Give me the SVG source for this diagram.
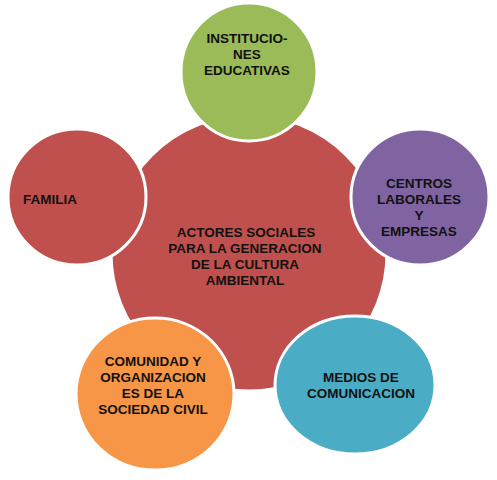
<svg xmlns="http://www.w3.org/2000/svg" width="497" height="480" viewBox="0 0 497 480">
<style>
.c{stroke:#fff;stroke-width:3}
text{font-family:"Liberation Sans",Arial,sans-serif;font-weight:bold;font-size:13.5px;fill:#111;text-anchor:middle}
</style>
<rect width="497" height="480" fill="#fff"/>
<g id="connectors"></g>
<g id="center">
<ellipse class="c" cx="249" cy="253" rx="138" ry="138" fill="#C0504D"/>
<text x="246" y="237">ACTORES SOCIALES</text>
<text x="245" y="253">PARA LA GENERACION</text>
<text x="245" y="269">DE  LA CULTURA</text>
<text x="245" y="285">AMBIENTAL</text>
</g>
<g id="instituciones">
<ellipse class="c" cx="249" cy="72" rx="68" ry="69" fill="#9BBB59"/>
<text x="247" y="43">INSTITUCIO-</text>
<text x="247" y="59">NES</text>
<text x="247" y="75">EDUCATIVAS</text>
</g>
<g id="familia">
<ellipse class="c" cx="77" cy="197" rx="69" ry="68" fill="#C0504D"/>
<text x="50" y="204">FAMILIA</text>
</g>
<g id="centros">
<ellipse class="c" cx="420" cy="197" rx="69" ry="68" fill="#8064A2"/>
<text x="419" y="188">CENTROS</text>
<text x="419" y="204">LABORALES</text>
<text x="419" y="220">Y</text>
<text x="419" y="236">EMPRESAS</text>
</g>
<g id="medios">
<ellipse class="c" cx="355" cy="385" rx="80" ry="69" fill="#4BACC6"/>
<text x="361" y="382">MEDIOS DE</text>
<text x="361" y="398">COMUNICACION</text>
</g>
<g id="comunidad">
<ellipse class="c" cx="155" cy="394" rx="79" ry="76" fill="#F79646"/>
<text x="153" y="366">COMUNIDAD Y</text>
<text x="153" y="382">ORGANIZACION</text>
<text x="153" y="398">ES DE LA</text>
<text x="153" y="414">SOCIEDAD  CIVIL</text>
</g>
</svg>
